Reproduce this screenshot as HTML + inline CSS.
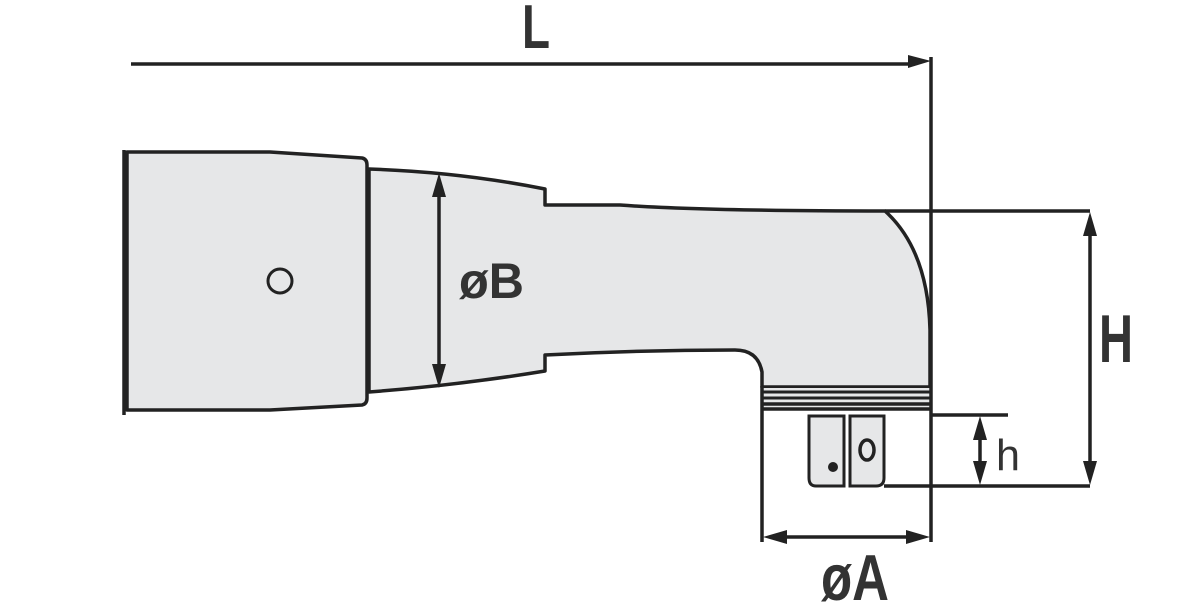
<!DOCTYPE html>
<html><head><style>html,body{margin:0;padding:0;background:#fff;width:1200px;height:604px;overflow:hidden}</style></head>
<body>
<svg width="1200" height="604" viewBox="0 0 1200 604" xmlns="http://www.w3.org/2000/svg">
<g fill="#e6e7e8" stroke="#222" stroke-width="3.5" stroke-linejoin="round">
<path d="M127,152 L270,152 L362,158 Q367,159 367,165 L367,398 Q367,404 362,405 L270,410 L127,410 Z"/>
<path d="M369,169 Q460,172 545,189 L545,205 L620,205 Q700,211 885,211 Q928,250 930,330 L930,387 L762,387 L762,372 Q758,350 735,350 Q640,350 545,355 L545,371 Q460,385 369,392 Z"/>
</g>
<line x1="124" y1="150" x2="124" y2="415" stroke="#222" stroke-width="3.5"/>
<circle cx="280" cy="281" r="12" fill="none" stroke="#222" stroke-width="3"/>
<rect x="763" y="388" width="167" height="22" fill="#e6e7e8"/>
<g stroke="#222">
<line x1="762" y1="386" x2="762" y2="542" stroke-width="3.5"/>
<line x1="762" y1="392" x2="931" y2="392" stroke-width="3"/>
<line x1="762" y1="398" x2="931" y2="398" stroke-width="3"/>
<line x1="762" y1="404" x2="931" y2="404" stroke-width="3.5"/>
<line x1="762" y1="409" x2="931" y2="409" stroke-width="3.5"/>
</g>
<g fill="#e6e7e8" stroke="#222" stroke-width="3">
<path d="M809,416 L844,416 L844,486 L816,486 Q809,486 809,478 Z"/>
<path d="M850,416 L884,416 L884,478 Q884,486 876,486 L850,486 Z"/>
</g>
<ellipse cx="867" cy="450" rx="7" ry="10" fill="none" stroke="#222" stroke-width="3.5"/>
<circle cx="833" cy="467" r="5" fill="#222"/>
<g stroke="#222" stroke-width="3.5" fill="none">
<line x1="131" y1="64" x2="915" y2="64"/>
<line x1="931" y1="57" x2="931" y2="542"/>
<line x1="885" y1="211" x2="1090" y2="211"/>
<line x1="884" y1="486" x2="1090" y2="486"/>
<line x1="1090" y1="225" x2="1090" y2="472"/>
<line x1="931" y1="415" x2="1008" y2="415"/>
<line x1="980" y1="430" x2="980" y2="472"/>
<line x1="775" y1="537" x2="918" y2="537"/>
<line x1="439" y1="185" x2="439" y2="376"/>
</g>
<g fill="#222">
<polygon points="931,61 908,55 908,68"/>
<polygon points="1090,212 1083,236 1097,236"/>
<polygon points="1090,485 1083,461 1097,461"/>
<polygon points="980,416 973,440 987,440"/>
<polygon points="980,485 973,461 987,461"/>
<polygon points="763,537 787,530 787,544"/>
<polygon points="930,537 906,530 906,544"/>
<polygon points="439,173 432,197 446,197"/>
<polygon points="439,388 432,364 446,364"/>
</g>
<g font-family="Liberation Sans, sans-serif" font-weight="bold" fill="#333">
<text x="522" y="48" font-size="62" textLength="28" lengthAdjust="spacingAndGlyphs">L</text>
<text x="459" y="298" font-size="50" textLength="65" lengthAdjust="spacingAndGlyphs">øB</text>
<text x="1099" y="362" font-size="68" textLength="34" lengthAdjust="spacingAndGlyphs">H</text>
<text x="821" y="600" font-size="65" textLength="68" lengthAdjust="spacingAndGlyphs">øA</text>
</g>
<text x="996" y="470" font-family="Liberation Sans, sans-serif" font-size="44" fill="#333" textLength="24" lengthAdjust="spacingAndGlyphs">h</text>
</svg>
</body></html>
